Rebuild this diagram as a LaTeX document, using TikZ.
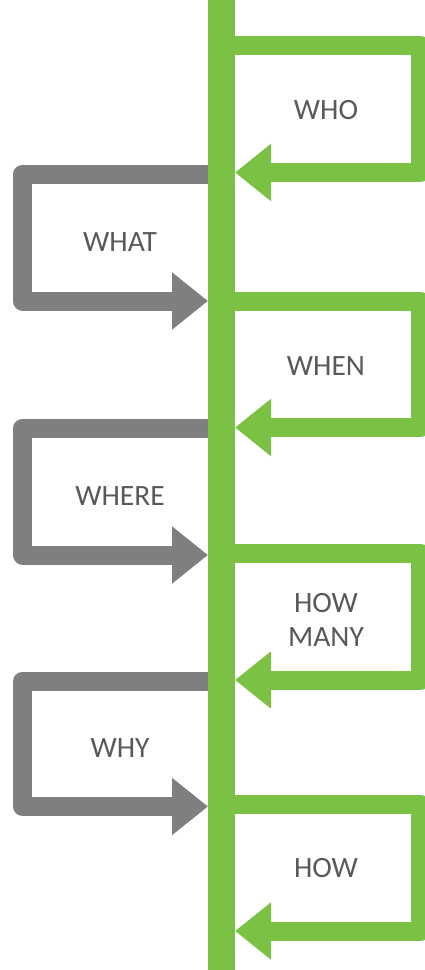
\documentclass[tikz,border=0pt]{standalone}
\usepackage{fontspec}
\setmainfont{Carlito}
\usetikzlibrary{arrows.meta}
\definecolor{leafgreen}{HTML}{7BC143}
\definecolor{stonegray}{HTML}{7F7F7F}
\definecolor{labelgray}{HTML}{595959}
\tikzset{
  greenloop/.style={draw=leafgreen, line width=19bp, line join=round,
    -{Triangle[length=36bp,width=55bp]}},
  grayloop/.style={draw=stonegray, line width=19bp, line join=round,
    -{Triangle[length=36bp,width=55bp]}},
  label/.style={text=labelgray, align=center,
    font=\fontsize{29.5bp}{34.5bp}\selectfont, inner sep=0pt}
}
\begin{document}
\begin{tikzpicture}[x=1bp, y=-1bp]
  \useasboundingbox (0,0) rectangle (424,970);

  % right-hand (green) loops: top edge y, bottom edge y
  \foreach \t/\b [count=\i] in {45.5/172.5, 301/427.5, 553/680, 804/931} {
    \coordinate (gs\i) at (222,\t);
    \coordinate (ge\i) at (235,\b);
    \draw[greenloop] (gs\i) -- (420,\t) -- (420,\b) -- (ge\i);
  }

  % left-hand (gray) loops
  \foreach \t/\b [count=\i] in {174/301, 428/555, 681/806.5} {
    \coordinate (ls\i) at (221,\t);
    \coordinate (le\i) at (208,\b);
    \draw[grayloop] (ls\i) -- (22.5,\t) -- (22.5,\b) -- (le\i);
  }

  % the central spine
  \fill[leafgreen] (208,-2) rectangle (235,972);

  % labels
  \node[label] (who)     at (326,110)   {WHO};
  \node[label] (what)    at (120,242)   {WHAT};
  \node[label] (when)    at (326,366.5) {WHEN};
  \node[label] (where)   at (120,496.5) {WHERE};
  \node[label] (howmany) at (326,620)   {HOW\\MANY};
  \node[label] (why)     at (120,748)   {WHY};
  \node[label] (how)     at (326,868)   {HOW};
\end{tikzpicture}
\end{document}
